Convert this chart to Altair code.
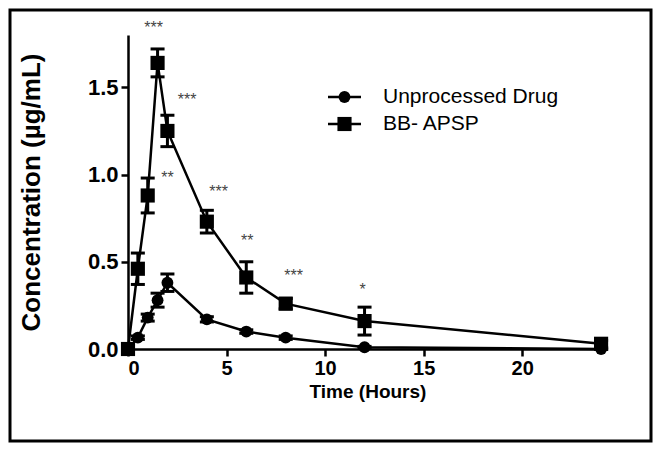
import altair as alt
import pandas as pd

# ---- data ----
time_h = [0, 0.5, 1, 1.5, 2, 4, 6, 8, 12, 24]
unprocessed = [0.0, 0.065, 0.18, 0.28, 0.38, 0.17, 0.10, 0.065, 0.01, 0.0]
unprocessed_err = [0.0, 0.01, 0.02, 0.04, 0.05, 0.015, 0.01, 0.01, 0.005, 0.0]
bbapsp = [0.0, 0.46, 0.88, 1.64, 1.25, 0.73, 0.41, 0.26, 0.16, 0.03]
bbapsp_err = [0.0, 0.09, 0.10, 0.08, 0.09, 0.065, 0.09, 0.03, 0.08, 0.02]
series_names = ["Unprocessed Drug", "BB- APSP"]
series_shapes = ["circle", "square"]
series_sizes = [140, 200]

sig_labels = ["***", "***", "**", "***", "**", "***", "*"]
sig_x = [1.3, 3.0, 2.0, 4.6, 6.05, 8.4, 11.9]
sig_y = [1.84, 1.43, 0.98, 0.90, 0.62, 0.42, 0.34]

x_ticks = [0, 5, 10, 15, 20]
y_ticks = [0.0, 0.5, 1.0, 1.5]

# ---- tables ----
rows = []
for name, vals, errs in [(series_names[0], unprocessed, unprocessed_err),
                         (series_names[1], bbapsp, bbapsp_err)]:
    for t, v, e in zip(time_h, vals, errs):
        rows.append({"time": t, "conc": v, "lo": max(v - e, 0), "hi": v + e,
                     "series": name})
df = pd.DataFrame(rows)
sig_df = pd.DataFrame({"x": sig_x, "y": sig_y, "label": sig_labels})

FONT = "Liberation Sans"
W, H = 479, 314
PAD = {"left": 120, "top": 27, "right": 46, "bottom": 94}

xscale = alt.Scale(domain=[0, 24.3], nice=False, zero=False)
yscale = alt.Scale(domain=[0, 1.8], nice=False)

x_enc = alt.X("time:Q", scale=xscale,
              axis=alt.Axis(values=x_ticks, title="Time (Hours)", format="d",
                            titleX=W / 2, titleY=42, titleBaseline="middle",
                            titleFontSize=19, labelFontSize=20, labelPadding=2))
y_enc = alt.Y("conc:Q", scale=yscale,
              axis=alt.Axis(values=y_ticks, format=".1f",
                            title="Concentration (µg/mL)",
                            titleX=-97, titleY=H / 2, titleAngle=-90,
                            titleBaseline="middle", titleAlign="center",
                            titleFontSize=26, labelFontSize=22, labelPadding=3))

base = alt.Chart(df)

lines = base.mark_line(color="black", strokeWidth=2.5).encode(
    x=x_enc, y=y_enc, detail="series:N", order="time:Q")

err_rule = base.mark_rule(color="black", strokeWidth=3, opacity=1).encode(
    x="time:Q", y="lo:Q", y2="hi:Q")
cap_lo = base.mark_tick(color="black", thickness=3, size=14, orient="horizontal",
                        opacity=1).encode(x="time:Q", y="lo:Q")
cap_hi = base.mark_tick(color="black", thickness=3, size=14, orient="horizontal",
                        opacity=1).encode(x="time:Q", y="hi:Q")

points = base.mark_point(filled=True, color="black", opacity=1).encode(
    x="time:Q", y="conc:Q",
    shape=alt.Shape("series:N", scale=alt.Scale(domain=series_names,
                                                range=series_shapes),
                    legend=None),
    size=alt.Size("series:N", scale=alt.Scale(domain=series_names, range=series_sizes),
                  legend=None))

sig = alt.Chart(sig_df).mark_text(font=FONT, fontSize=16, color="#444444",
                                  baseline="middle").encode(
    x="x:Q", y="y:Q", text="label:N")

# ---- hand-built legend (line + marker + label) ----
one = pd.DataFrame({"a": [0]})
legend_layers = []
for i, (name, shp, sz) in enumerate(zip(series_names, series_shapes, series_sizes)):
    ly = 62 + i * 27
    legend_layers.append(alt.Chart(one).mark_rule(color="black", strokeWidth=2.5).encode(
        x=alt.value(200), x2=alt.value(233), y=alt.value(ly)))
    legend_layers.append(alt.Chart(one).mark_point(
        filled=True, color="black", opacity=1, shape=shp, size=sz).encode(
        x=alt.value(216.5), y=alt.value(ly)))
    legend_layers.append(alt.Chart(one).mark_text(
        font=FONT, fontSize=21, color="black", align="left", baseline="middle",
        text=name).encode(x=alt.value(255), y=alt.value(ly)))

frame = alt.Chart(one).mark_rect(
    fillOpacity=0, stroke="black", strokeWidth=3).encode(
    x=alt.value(-PAD["left"] + 2), x2=alt.value(W + PAD["right"] - 2),
    y=alt.value(-PAD["top"] + 2), y2=alt.value(H + PAD["bottom"] - 2))

chart = alt.layer(frame, lines, err_rule, cap_lo, cap_hi, points, sig,
                  *legend_layers).properties(
    width=W, height=H,
    autosize=alt.AutoSizeParams(type="none"),
    padding=PAD,
).configure_view(stroke=None).configure_axis(
    grid=False, domainColor="black", domainWidth=2.5, tickColor="black",
    tickWidth=2.5, tickSize=7, labelFont=FONT,
    labelFontWeight="bold", labelColor="black", titleFont=FONT,
    titleFontWeight="bold", titleColor="black"
)

chart.save("out.html", embed_options={"renderer": "svg", "actions": False})
